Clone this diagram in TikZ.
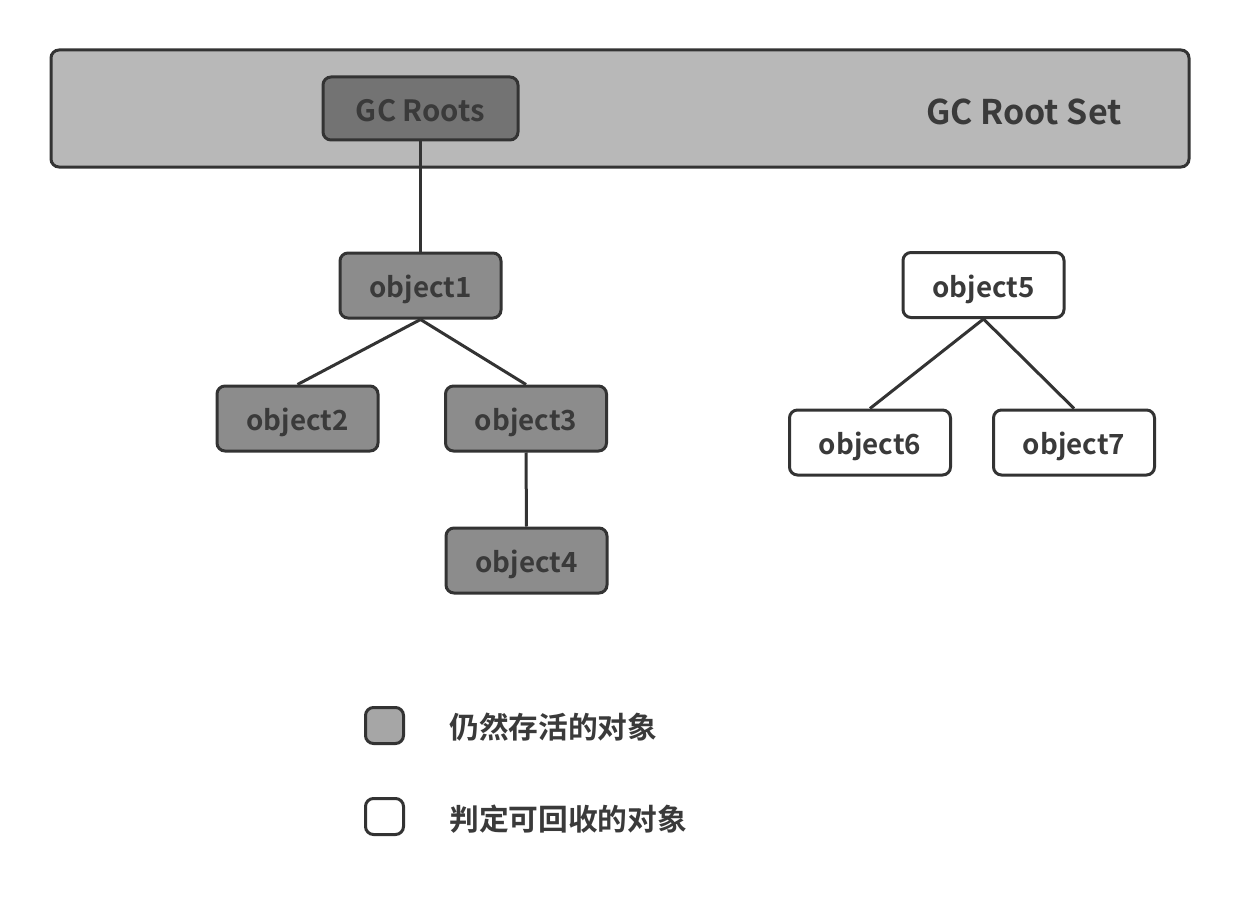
\documentclass[tikz,border=0pt]{standalone}
\usepackage{fontspec}
\setmainfont{Noto Sans CJK SC}[BoldFont={* Bold}]
\newfontfamily\cjkb{Noto Sans CJK SC Bold}
\definecolor{edge}{HTML}{333333}
\definecolor{txt}{HTML}{3A3A3A}
\definecolor{setfill}{HTML}{B8B8B8}
\definecolor{rootfill}{HTML}{737373}
\definecolor{livefill}{HTML}{8C8C8C}
\definecolor{legfill}{HTML}{A6A6A6}
\tikzset{
  box/.style={draw=edge, line width=2.25pt, rounded corners=6pt, text=txt,
    font=\cjkb\fontsize{20.8pt}{24pt}\selectfont, inner sep=0pt,
    text height=22pt, text depth=3.5pt,
    minimum width=161*0.75pt, minimum height=65*0.75pt},
  livebox/.style={box, fill=livefill},
  deadbox/.style={box, fill=white},
  conn/.style={draw=edge, line width=2.25pt},
  legtext/.style={anchor=west, text=txt, inner sep=0pt, font=\cjkb\fontsize{22.3pt}{26pt}\selectfont},
}
\begin{document}
\begin{tikzpicture}[x=0.75pt,y=-0.75pt]
\useasboundingbox (0,0) rectangle (1240,906);
\fill[white] (0,0) rectangle (1240,906);
\node[box, fill=setfill, minimum width=1138*0.75pt, minimum height=117*0.75pt] (set) at (620,108.5) {};
\node[text=txt, font=\cjkb\fontsize{25.5pt}{28pt}\selectfont, inner sep=0pt] (settext) at (1024,112) {GC Root Set};
\node[box, fill=rootfill, minimum width=195*0.75pt, minimum height=63*0.75pt, font=\cjkb\fontsize{22pt}{26pt}\selectfont, text height=23pt] (gc) at (420.5,108.5) {GC Roots};
\node[livebox] (o1) at (420.5,285.5) {object1};
\node[livebox] (o2) at (297.5,418.5) {object2};
\node[livebox] (o3) at (526,418.5) {object3};
\node[livebox] (o4) at (526.5,560.5) {object4};
\node[deadbox] (o5) at (983.5,285) {object5};
\node[deadbox] (o6) at (870,442.5) {object6};
\node[deadbox] (o7) at (1074,442.5) {object7};
\draw[conn] (gc.south) -- (o1.north);
\draw[conn] (o1.south) -- (o2.north);
\draw[conn] (o1.south) -- (o3.north);
\draw[conn] (o3.south) -- (o4.north);
\draw[conn] (o5.south) -- (o6.north);
\draw[conn] (o5.south) -- (o7.north);
\node[box, fill=legfill, minimum width=38*0.75pt, minimum height=36*0.75pt, text height=0pt, text depth=0pt] (leg1) at (384.5,725.5) {};
\node[box, fill=white, minimum width=38*0.75pt, minimum height=36*0.75pt, text height=0pt, text depth=0pt] (leg2) at (384.5,816.5) {};
\node[legtext] (leg1t) at (449,727) {仍然存活的对象};
\node[legtext] (leg2t) at (449,819) {判定可回收的对象};
\end{tikzpicture}
\end{document}
